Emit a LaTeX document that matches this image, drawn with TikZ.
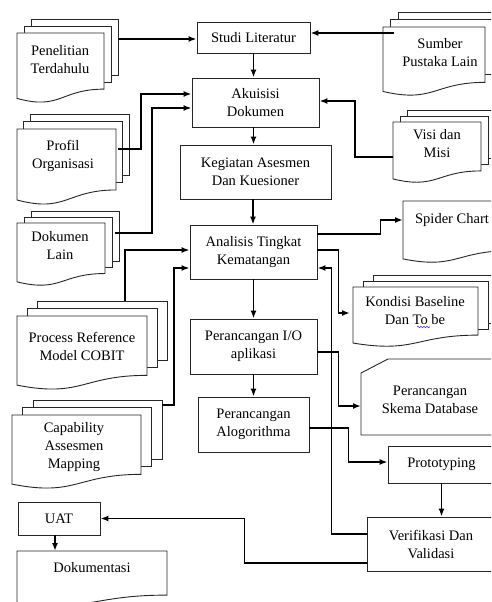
\documentclass[tikz,border=0pt]{standalone}
\usepackage{fontspec}
\setmainfont{Liberation Serif}
\usetikzlibrary{arrows.meta,calc,decorations.pathmorphing}
\tikzset{
  shp/.style={draw=black!85, line width=0.9pt},
  boxn/.style={shp, rectangle, align=center, inner sep=0pt, font=\fontsize{14.5}{18}\selectfont},
  lbl/.style={align=center, inner sep=0pt, font=\fontsize{14.5}{18}\selectfont},
  conn/.style={line width=1.6pt, black, -{Latex[length=8pt,width=6pt]}},
}
% front page of a document: x1,y1,x2,h
\newcommand\docfront[4]{%
  \draw[shp, fill=white] (#1,#2) -- (#3,#2) -- (#3,{#2+0.802*#4})
    .. controls ({(#1+#3)/2},{#2+0.802*#4}) and ({(#1+#3)/2},{#2+1.107*#4}) .. (#1,{#2+0.934*#4}) -- cycle;}
% back pages of a multidocument: x1,y1,x2,h,dx,dy
\newcommand\docback[6]{%
  \draw[shp] ({#1+#5},#2) -- ({#1+#5},{#2-#6}) -- ({#3+#5},{#2-#6}) -- ({#3+#5},{#2+0.802*#4-#6}) -- (#3,{#2+0.802*#4-#6});
  \draw[shp] ({#1+2*#5},{#2-#6}) -- ({#1+2*#5},{#2-2*#6}) -- ({#3+2*#5},{#2-2*#6}) -- ({#3+2*#5},{#2+0.802*#4-2*#6}) -- ({#3+#5},{#2+0.802*#4-2*#6});}
\begin{document}
\begin{tikzpicture}[x=1pt,y=-1pt]
\useasboundingbox (0,0) rectangle (491,602);
\fill[white] (0,0) rectangle (491,602);
\clip (0,0) rectangle (491,602);

% ---- multi documents ----
\docback{17}{33}{104}{70}{7.3}{7}\docfront{17}{33}{104}{70}
\node[lbl] (penel) at (60,60) {Penelitian\\Terdahulu};

\docback{383}{27}{485}{69}{7.5}{7.5}\docfront{383}{27}{485}{69}
\node[lbl] (sumber) at (440,53) {Sumber\\Pustaka Lain};

\docback{17}{129}{116}{76}{6.5}{7.5}\docfront{17}{129}{116}{76}
\node[lbl] (profil) at (63,156) {Profil\\Organisasi};

\docback{393}{122}{481}{61}{7}{6}\docfront{393}{122}{481}{61}
\node[lbl] (visi) at (437,144) {Visi dan\\Misi};

\docback{17}{223}{105}{63}{7}{6}\docfront{17}{223}{105}{63}
\node[lbl] (doklain) at (60,246) {Dokumen\\Lain};

\docback{17}{316}{147}{74}{10}{7.5}\docfront{17}{316}{147}{74}
\node[lbl] (cobit) at (82,346) {Process Reference\\Model COBIT};

\docback{12}{415}{141}{74}{10.5}{7.5}\docfront{12}{415}{141}{74}
\node[lbl] (capab) at (74,447) {Capability\\Assesmen\\Mapping};

\docback{353}{287}{478}{60}{10}{6}\docfront{353}{287}{478}{60}
\node[lbl] (kondisi) at (415,311) {Kondisi Baseline\\Dan To be};
\draw[blue!75, line width=0.6pt, decorate, decoration={snake, amplitude=0.8pt, segment length=3pt}] (417,327) -- (430,327);

% ---- single documents ----
\docfront{403}{201}{510}{62}
\node[lbl] (spider) at (452,220) {Spider Chart};

\docfront{17}{551}{167}{55}
\node[lbl] (dokum) at (92,568) {Dokumentasi};

% ---- card ----
\draw[shp] (500,359) -- (388,359) -- (361,373) -- (361,435) -- (500,435);
\node[lbl] (skema) at (430,400) {Perancangan\\Skema Database};

% ---- process boxes ----
\node[boxn, minimum width=113pt, minimum height=31pt] (studi) at (253.5,37.5) {Studi Literatur};
\node[boxn, minimum width=127pt, minimum height=49pt] (akuisisi) at (255.5,102.5) {Akuisisi\\Dokumen};
\node[boxn, minimum width=151pt, minimum height=54pt] (kegiatan) at (255.5,172) {Kegiatan Asesmen\\Dan Kuesioner};
\node[boxn, minimum width=127pt, minimum height=54pt] (analisis) at (253.5,252) {Analisis Tingkat\\Kematangan};
\node[boxn, minimum width=127pt, minimum height=55pt] (perio) at (253.5,346.5) {Perancangan I/O\\aplikasi};
\node[boxn, minimum width=111pt, minimum height=55pt] (alg) at (253.5,424.5) {Perancangan\\Alogorithma};
\node[boxn, minimum width=107pt, minimum height=37pt] (proto) at (441.5,464.5) {Prototyping};
\node[boxn, minimum width=128pt, minimum height=54pt] (verif) at (431,544) {Verifikasi Dan\\Validasi};
\node[boxn, minimum width=82pt, minimum height=33pt] (uat) at (59,518.5) {UAT};

% ---- connector end points ----
\coordinate (penout) at (118,39);
\coordinate (sumout) at (394,33);
\coordinate (proout) at (118,149);
\coordinate (dokout) at (115,233);
\coordinate (visout) at (393,157);
\coordinate (prcout) at (125,301);
\coordinate (capout) at (162,405);
\coordinate (spiin) at (403,220);
\coordinate (konin) at (350,313);
\coordinate (skein) at (361,406);
\coordinate (dokin) at (55,551);

% ---- connectors ----
\draw[conn] (penout) -- (penout -| studi.west);
\draw[conn] (sumout) -- (sumout -| studi.east);
\draw[conn] (studi.south) -- (studi.south |- akuisisi.north);
\draw[conn] (proout) -- ++(23,0) |- ([yshift=8.5pt]akuisisi.west);
\draw[conn] (dokout) -- ++(37,0) |- ([yshift=-5.5pt]akuisisi.west);
\draw[conn] (visout) -- ++(-38,0) |- ([yshift=1.5pt]akuisisi.east);
\draw[conn] ([xshift=-2pt]akuisisi.south) -- ([xshift=-2pt]akuisisi.south |- kegiatan.north);
\draw[conn] ([xshift=-2.5pt]kegiatan.south) -- ([xshift=-2.5pt]kegiatan.south |- analisis.north);
\draw[conn] (prcout) |- ([yshift=2pt]analisis.west);
\draw[conn] (capout) -- ++(12,0) |- ([yshift=-16pt]analisis.west);
\draw[conn] ([yshift=18pt]analisis.east) -- ++(63,0) |- (spiin);
\draw[conn] ([yshift=2pt]analisis.east) -- ++(21,0) |- (konin);
\draw[conn] ([yshift=10pt]verif.west) -- ++(-35,0) |- ([yshift=-16pt]analisis.east);
\draw[conn] (analisis.south) -- (perio.north);
\draw[conn] ([yshift=-5.5pt]perio.east) -- ++(21,0) |- (skein);
\draw[conn] (perio.south) -- (alg.north);
\draw[conn] ([yshift=-3.5pt]alg.east) -- ++(39,0) |- ([yshift=2.5pt]proto.west);
\draw[conn] (proto.south) -- (proto.south |- verif.north);
\draw[conn] ([yshift=-19pt]verif.west) -- ++(-122,0) |- (uat.east);
\draw[conn] ([xshift=-4pt]uat.south) -- (dokin);
\end{tikzpicture}
\end{document}
